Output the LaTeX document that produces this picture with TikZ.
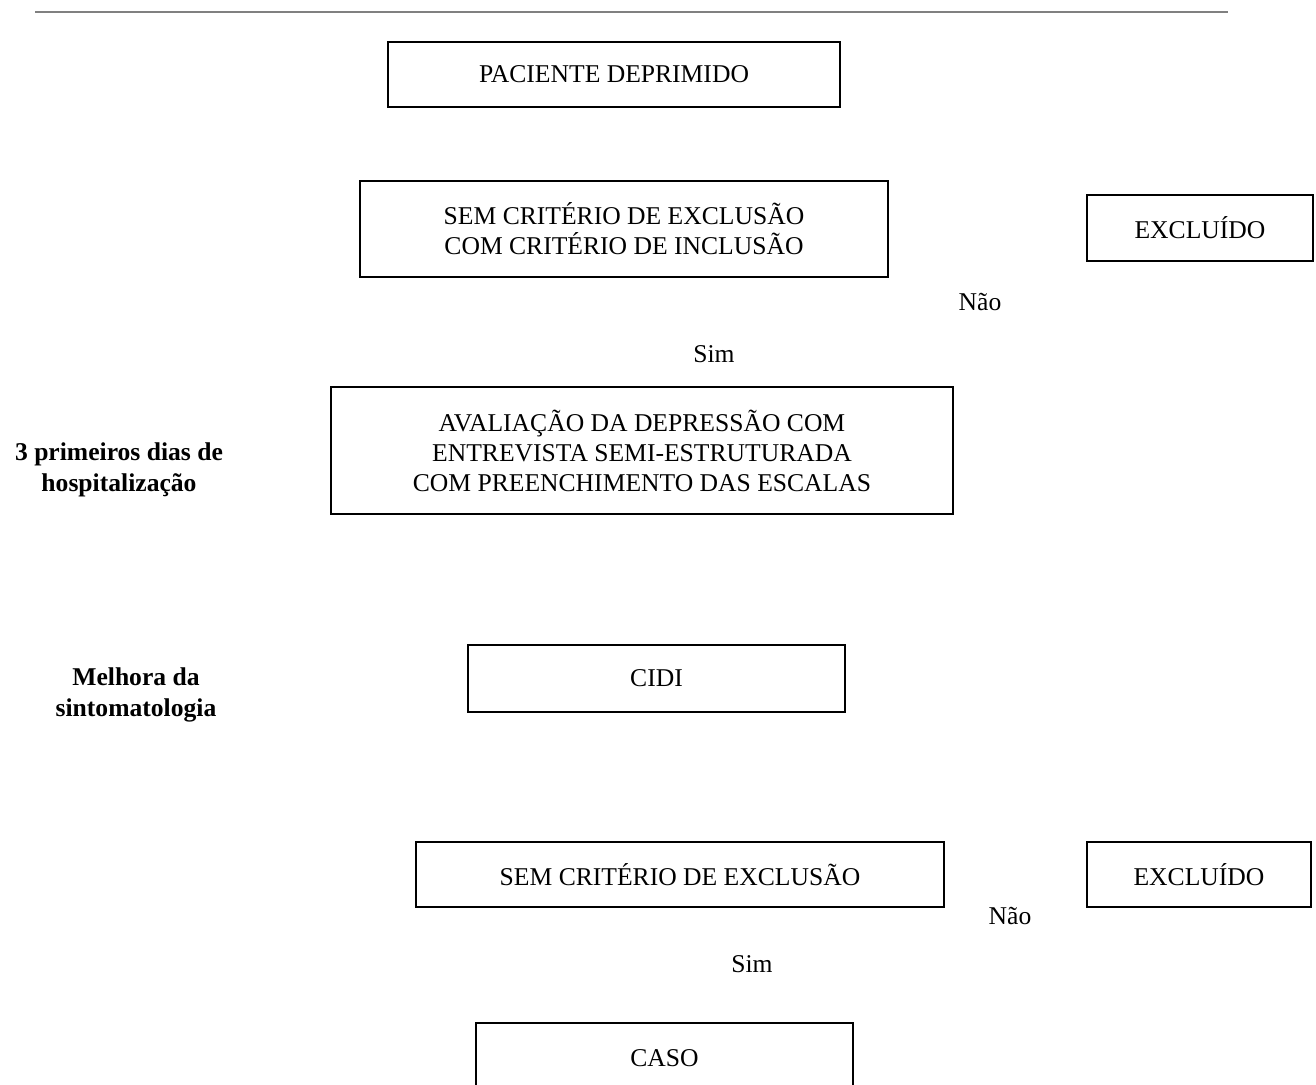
\documentclass[tikz,border=0pt]{standalone}
\usepackage{fontspec}
\setmainfont{Liberation Serif}
\usepackage{tikz}
\tikzstyle{Box}=[rectangle, draw=black, line width=0.9pt, inner sep=0pt, align=center, font=\fontsize{12.8}{15}\selectfont]
\tikzstyle{Lbl}=[inner sep=0pt, align=center, font=\fontsize{12.8}{15}\selectfont]
\tikzstyle{Side}=[inner sep=0pt, align=center, font=\fontsize{12.8}{15.5}\selectfont\bfseries]

\begin{document}
\begin{tikzpicture}[x=0.5pt, y=-0.5pt]
    \clip (0,0) rectangle (1316,1085);
    \path[fill=white] (0,0) rectangle (1316,1085);
    \draw[gray, line width=0.8pt] (35,12) -- (1228,12);
    \path
    (614,74.5) node[Box, minimum width=226pt, minimum height=32.5pt] (pac) {PACIENTE DEPRIMIDO}
    (624,229) node[Box, minimum width=264pt, minimum height=48pt] (crit) {SEM CRITÉRIO DE EXCLUSÃO\\COM CRITÉRIO DE INCLUSÃO}
    (1200,228) node[Box, minimum width=113pt, minimum height=33pt] (excA) {EXCLUÍDO}
    (642,450.5) node[Box, minimum width=311pt, minimum height=63.5pt] (aval) {AVALIAÇÃO DA DEPRESSÃO COM\\ENTREVISTA SEMI-ESTRUTURADA\\COM PREENCHIMENTO DAS ESCALAS}
    (656.5,678.5) node[Box, minimum width=188.5pt, minimum height=33.5pt] (cidi) {CIDI}
    (680,874.5) node[Box, minimum width=264pt, minimum height=32.5pt] (sem) {SEM CRITÉRIO DE EXCLUSÃO}
    (1199,874.5) node[Box, minimum width=112pt, minimum height=32.5pt] (excB) {EXCLUÍDO}
    (664.5,1058) node[Box, minimum width=188.5pt, minimum height=35pt] (caso) {CASO};
    \path
    (980,302) node[Lbl] (naoA) {Não}
    (714,354) node[Lbl] (simA) {Sim}
    (1010,916) node[Lbl] (naoB) {Não}
    (752,964) node[Lbl] (simB) {Sim}
    (119,470) node[Side] (dias) {3 primeiros dias de\\hospitalização}
    (136,695) node[Side] (melhora) {Melhora da\\sintomatologia};
\end{tikzpicture}
\end{document}
